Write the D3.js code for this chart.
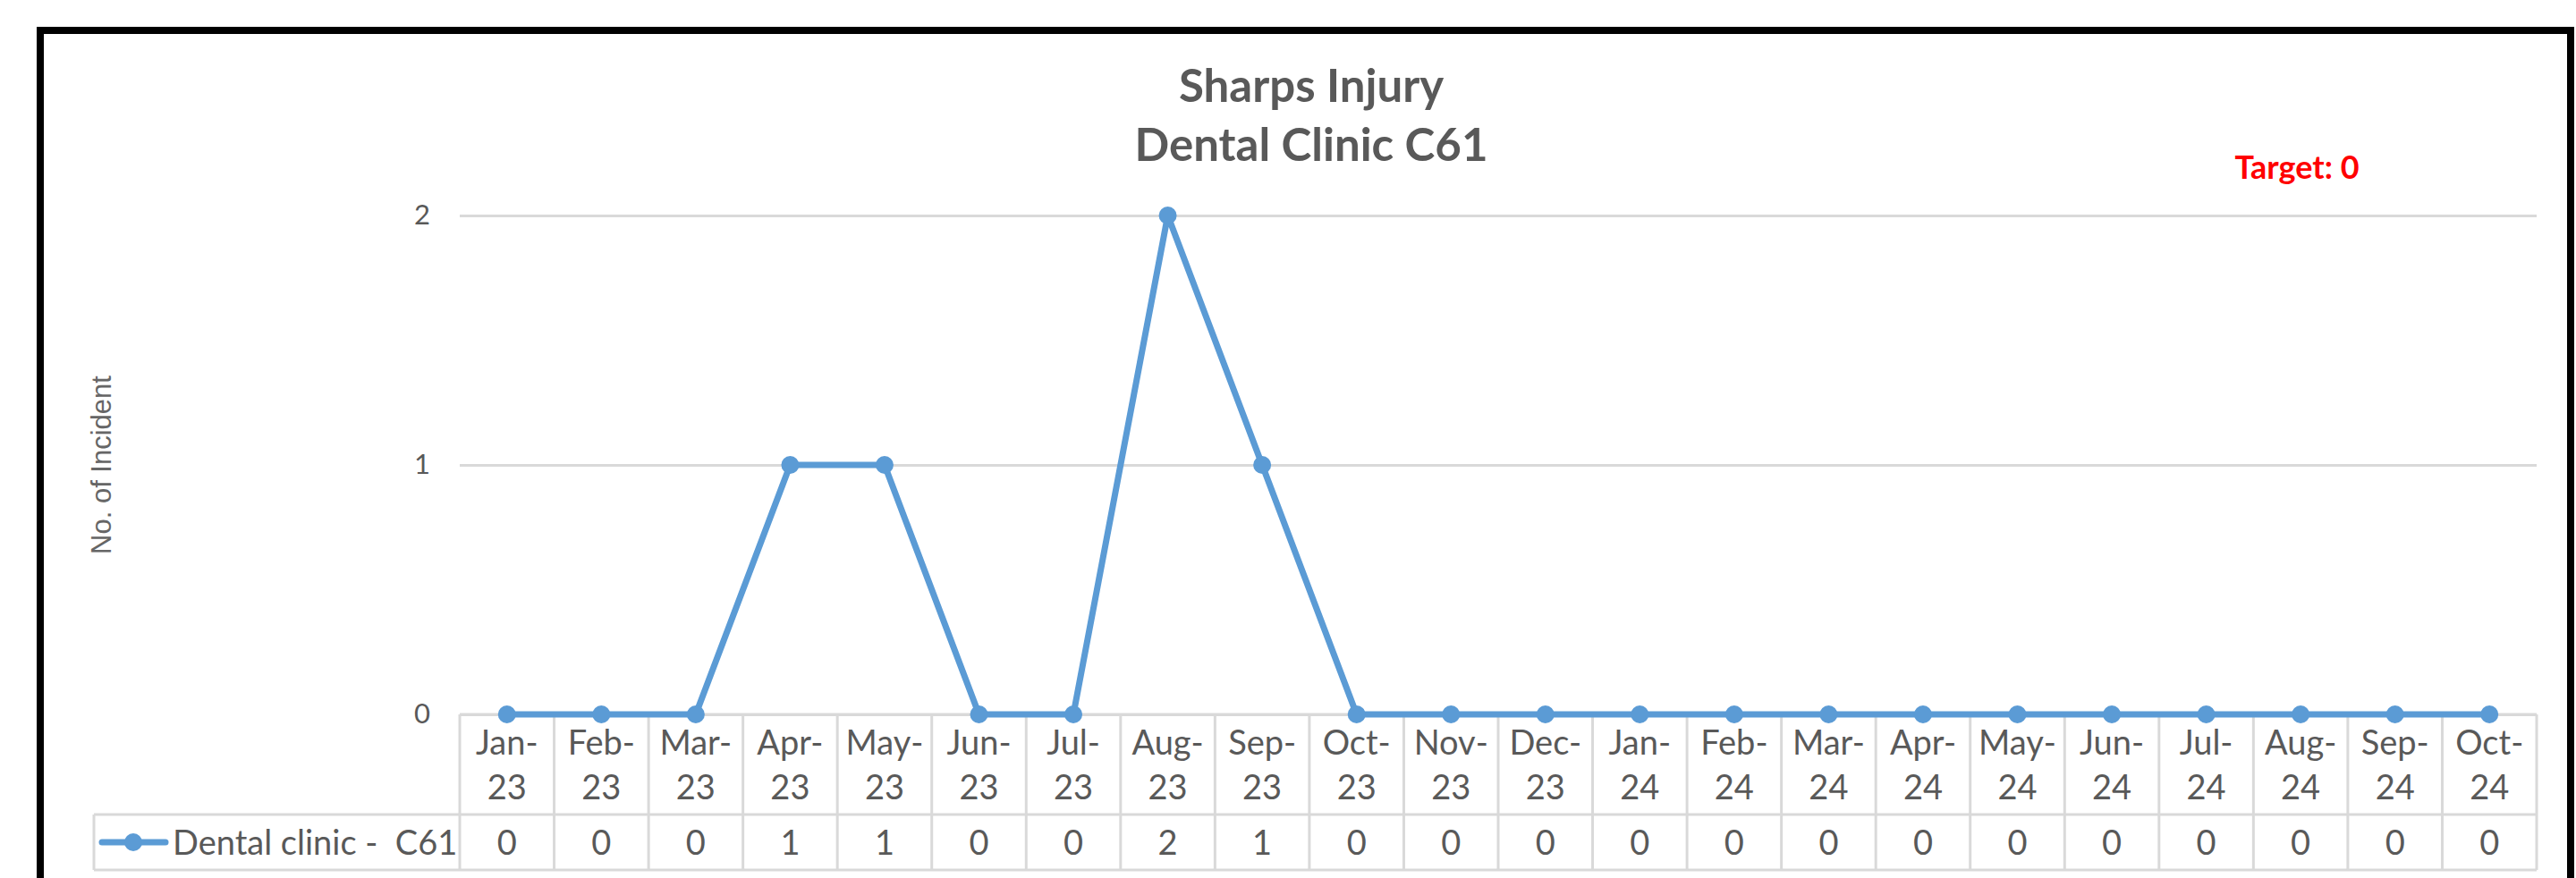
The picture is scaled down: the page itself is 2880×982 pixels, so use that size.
<!DOCTYPE html>
<html>
<head>
<meta charset="utf-8">
<script src="https://cdn.jsdelivr.net/npm/d3@7"></script>
<style>
  html, body { margin: 0; padding: 0; background: #fff; }
  svg { display: block; }
  text { font-family: Lato, "Open Sans", sans-serif; }
</style>
</head>
<body>
<div id="chart"></div>
<script>
// data
const months = ['Jan-23', 'Feb-23', 'Mar-23', 'Apr-23', 'May-23', 'Jun-23', 'Jul-23', 'Aug-23', 'Sep-23', 'Oct-23', 'Nov-23', 'Dec-23',
  'Jan-24', 'Feb-24', 'Mar-24', 'Apr-24', 'May-24', 'Jun-24', 'Jul-24', 'Aug-24', 'Sep-24', 'Oct-24'];
const incidents = [0, 0, 0, 1, 1, 0, 0, 2, 1, 0, 0, 0, 0, 0, 0, 0, 0, 0, 0, 0, 0, 0];
const yTicks = [0, 1, 2];
const seriesName = 'Dental clinic -  C61';
const titleLines = ['Sharps Injury', 'Dental Clinic C61'];
const targetLabel = 'Target: 0';
const yTitle = 'No. of Incident';

const W = 2880, H = 982;
const grey = '#595959', gridCol = '#d9d9d9', blue = '#5b9bd5';

const svg = d3.select('#chart').append('svg')
  .attr('width', W).attr('height', H);

// frame
svg.append('rect')
  .attr('x', 45).attr('y', 34)
  .attr('width', 2829).attr('height', 1000)
  .attr('fill', '#fff')
  .attr('stroke', '#000').attr('stroke-width', 8);

const plot = { left: 514, right: 2836, top: 241, bottom: 799 };

const x = d3.scaleBand().domain(months).range([plot.left, plot.right]).padding(0);
const y = d3.scaleLinear().domain([0, 2]).range([plot.bottom, plot.top]);
const bw = x.bandwidth();

// gridlines + y tick labels
const yAxis = svg.append('g')
  .attr('transform', `translate(${plot.left},0)`)
  .call(d3.axisLeft(y).tickValues(yTicks).tickSize(-(plot.right - plot.left)).tickPadding(33).tickFormat(d3.format('d')));
yAxis.select('.domain').remove();
yAxis.selectAll('.tick line').attr('stroke', gridCol).attr('stroke-width', 3);
yAxis.selectAll('.tick text')
  .attr('fill', grey)
  .style('font-size', '31px')
  .style('font-family', 'Lato, sans-serif');

// y title
svg.append('text')
  .attr('transform', 'translate(124,520) rotate(-90)')
  .attr('text-anchor', 'middle')
  .style('font-family', '"Liberation Sans", Arial, sans-serif')
  .style('font-size', '31px')
  .attr('fill', '#666')
  .text(yTitle);

// title
svg.append('g').selectAll('text')
  .data(titleLines)
  .enter().append('text')
  .attr('x', 1466)
  .attr('y', (d, i) => 114 + i * 66)
  .attr('text-anchor', 'middle')
  .style('font-size', '51px')
  .style('font-weight', 700)
  .attr('fill', grey)
  .text(d => d);

// target
svg.append('text')
  .attr('x', 2568).attr('y', 200)
  .attr('text-anchor', 'middle')
  .style('font-size', '36px')
  .style('font-weight', 700)
  .attr('fill', '#ff0000')
  .text(targetLabel);

// data table
const tableLeft = 105, rowTop = 911, rowBottom = 973;
const tbl = svg.append('g')
  .attr('stroke', gridCol).attr('stroke-width', 3).attr('fill', 'none');
tbl.append('line').attr('x1', plot.left).attr('x2', plot.right).attr('y1', plot.bottom).attr('y2', plot.bottom);
tbl.append('line').attr('x1', tableLeft).attr('x2', plot.right).attr('y1', rowTop).attr('y2', rowTop);
tbl.append('line').attr('x1', tableLeft).attr('x2', plot.right).attr('y1', rowBottom).attr('y2', rowBottom);
tbl.append('line').attr('x1', tableLeft).attr('x2', tableLeft).attr('y1', rowTop).attr('y2', rowBottom);
tbl.selectAll('.vline')
  .data(months.concat(['end']))
  .enter().append('line')
  .attr('class', 'vline')
  .attr('x1', (d, i) => i < months.length ? x(d) : plot.right)
  .attr('x2', (d, i) => i < months.length ? x(d) : plot.right)
  .attr('y1', plot.bottom).attr('y2', rowBottom);

// category labels, two lines
const cat = svg.append('g').selectAll('text')
  .data(months)
  .enter().append('text')
  .attr('text-anchor', 'middle')
  .style('font-size', '38px')
  .attr('fill', grey);
cat.append('tspan')
  .attr('x', d => x(d) + bw / 2).attr('y', 844)
  .text(d => d.split('-')[0] + '-');
cat.append('tspan')
  .attr('x', d => x(d) + bw / 2).attr('y', 894)
  .text(d => d.split('-')[1]);

// values row
svg.append('g').selectAll('text')
  .data(incidents)
  .enter().append('text')
  .attr('x', (d, i) => x(months[i]) + bw / 2)
  .attr('y', 956)
  .attr('text-anchor', 'middle')
  .style('font-size', '38px')
  .attr('fill', grey)
  .text(d => d);

// legend key in table
svg.append('line')
  .attr('x1', 114).attr('x2', 185).attr('y1', 942).attr('y2', 942)
  .attr('stroke', blue).attr('stroke-width', 7).attr('stroke-linecap', 'round');
svg.append('circle').attr('cx', 149).attr('cy', 942).attr('r', 10).attr('fill', blue);
svg.append('text')
  .attr('x', 193).attr('y', 956)
  .style('font-size', '38px')
  .style('white-space', 'pre')
  .attr('fill', grey)
  .text(seriesName);

// series line
const line = d3.line()
  .x((d, i) => x(months[i]) + bw / 2)
  .y(d => y(d));
svg.append('path')
  .datum(incidents)
  .attr('d', line)
  .attr('fill', 'none')
  .attr('stroke', blue)
  .attr('stroke-width', 7)
  .attr('stroke-linejoin', 'round');

svg.append('g').selectAll('circle')
  .data(incidents)
  .enter().append('circle')
  .attr('cx', (d, i) => x(months[i]) + bw / 2)
  .attr('cy', d => y(d))
  .attr('r', 10)
  .attr('fill', blue);
</script>
</body>
</html>
